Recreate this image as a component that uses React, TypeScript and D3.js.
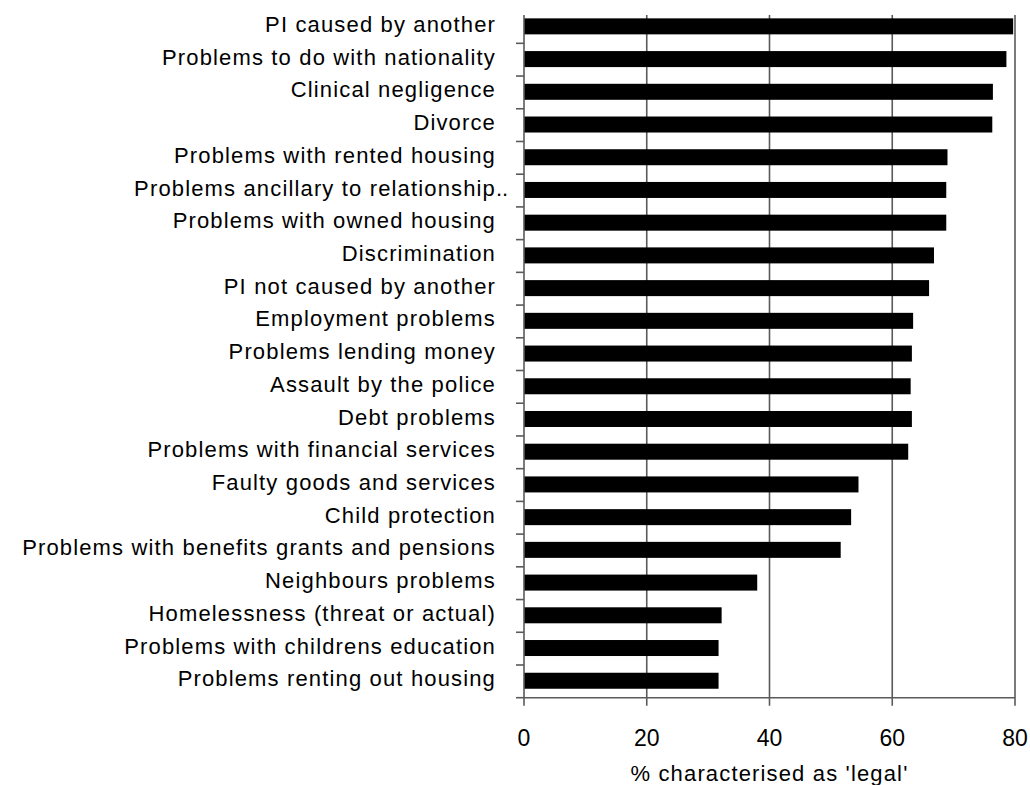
import React from "react";
import * as d3 from "d3";

const categories = [
  "PI caused by another",
  "Problems to do with nationality",
  "Clinical negligence",
  "Divorce",
  "Problems with rented housing",
  "Problems ancillary to relationship",
  "Problems with owned housing",
  "Discrimination",
  "PI not caused by another",
  "Employment problems",
  "Problems lending money",
  "Assault by the police",
  "Debt problems",
  "Problems with financial services",
  "Faulty goods and services",
  "Child protection",
  "Problems with benefits grants and pensions",
  "Neighbours problems",
  "Homelessness (threat or actual)",
  "Problems with childrens education",
  "Problems renting out housing",
];

const values = [
  79.7, 78.6, 76.4, 76.3, 69.0, 68.8, 68.8, 66.8, 66.0, 63.4, 63.2, 63.0, 63.2,
  62.6, 54.5, 53.3, 51.6, 38.0, 32.2, 31.7, 31.7,
];

const truncated = ["Problems ancillary to relationship"];
const xTicks = [0, 20, 40, 60, 80];
const xTitle = "% characterised as 'legal'";

const W = 1030;
const H = 785;
const FONT = "'Liberation Sans', Arial, sans-serif";

export default function App() {
  const x = d3.scaleLinear().domain([0, 80]).range([524, 1015]);
  const top = 10.6;
  const bottom = 697.7;
  const y = d3.scaleBand<string>().domain(categories).range([top, bottom]);
  const step = y.step();
  const gridTop = 15;
  const gridColor = "#5a5a5a";
  const labelX = 496;
  const barH = 16;

  return (
    <svg width={W} height={H} style={{ position: "absolute", left: 0, top: 0, background: "#fff" }}>
      {/* gridlines */}
      {xTicks.slice(1).map((t) => (
        <line key={"g" + t} x1={x(t)} x2={x(t)} y1={gridTop} y2={bottom + 8} stroke={gridColor} strokeWidth={1.6} />
      ))}
      {/* bars */}
      {categories.map((c, i) => {
        const yc = (y(c) as number) + step / 2;
        return <rect key={c} x={x(0)} y={yc - barH / 2 - 0.6} width={x(values[i]) - x(0)} height={barH} fill="#000" />;
      })}
      {/* left axis */}
      <line x1={x(0)} x2={x(0)} y1={gridTop} y2={bottom + 8} stroke={gridColor} strokeWidth={1.6} />
      {categories.map((c) => {
        const yb = (y(c) as number) + step;
        return <line key={"t" + c} x1={x(0) - 8} x2={x(0)} y1={yb} y2={yb} stroke={gridColor} strokeWidth={1.6} />;
      })}
      {/* bottom axis */}
      <line x1={x(0)} x2={x(80)} y1={bottom} y2={bottom} stroke={gridColor} strokeWidth={1.6} />
      {/* category labels */}
      {categories.map((c) => {
        const yc = (y(c) as number) + step / 2;
        const isTrunc = truncated.includes(c);
        return (
          <g key={"l" + c}>
            <text
              x={labelX}
              y={yc + 5}
              textAnchor="end"
              fontFamily={FONT}
              fontSize={22}
              letterSpacing={1.15}
              fill="#000"
            >
              {c}
            </text>
            {isTrunc && (
              <text x={labelX} y={yc + 5} fontFamily={FONT} fontSize={22} fill="#000">
                ..
              </text>
            )}
          </g>
        );
      })}
      {/* tick labels */}
      {xTicks.map((t) => (
        <text key={"x" + t} x={x(t)} y={746} textAnchor="middle" fontFamily={FONT} fontSize={23} fill="#000">
          {t}
        </text>
      ))}
      <text x={x(40)} y={781} textAnchor="middle" fontFamily={FONT} fontSize={22} letterSpacing={1.15} fill="#000">
        {xTitle}
      </text>
    </svg>
  );
}
